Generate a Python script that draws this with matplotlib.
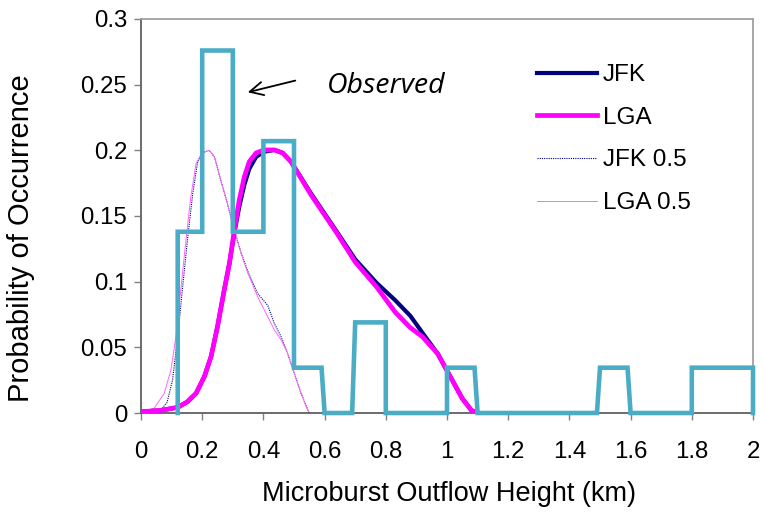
import matplotlib
matplotlib.use("Agg")
import matplotlib.pyplot as plt

plt.rcParams['font.family'] = ['Liberation Sans', 'DejaVu Sans']

# observed histogram outline (step vertices)
obs_x = [0.12, 0.12, 0.2, 0.2, 0.3, 0.3, 0.4, 0.4, 0.5, 0.5, 0.59, 0.6, 0.69, 0.7,
         0.8, 0.8, 1.0, 1.0, 1.09, 1.1, 1.49, 1.5, 1.59, 1.6, 1.8, 1.8, 2.0, 2.0]
obs_y = [0, 0.138, 0.138, 0.276, 0.276, 0.138, 0.138, 0.207, 0.207, 0.0345, 0.0345, 0, 0, 0.069,
         0.069, 0, 0, 0.0345, 0.0345, 0, 0, 0.0345, 0.0345, 0, 0, 0.0345, 0.0345, 0]

lga_x = [0, 0.065, 0.12, 0.152, 0.18, 0.207, 0.229, 0.25, 0.272, 0.289, 0.305, 0.321, 0.338,
         0.354, 0.376, 0.403, 0.436, 0.463, 0.49, 0.556, 0.64, 0.70, 0.77, 0.83, 0.88, 0.92,
         0.97, 1.01, 1.05, 1.08, 1.1]
lga_y = [0.001, 0.002, 0.0043, 0.0086, 0.015, 0.0277, 0.043, 0.0658, 0.0937, 0.114, 0.139, 0.162, 0.180,
         0.1914, 0.198, 0.2003, 0.2003, 0.198, 0.1914, 0.166, 0.137, 0.115, 0.096, 0.077, 0.065, 0.058,
         0.045, 0.028, 0.011, 0.002, 0.0]

jfk_x = [0, 0.065, 0.12, 0.152, 0.18, 0.207, 0.229, 0.25, 0.272, 0.289, 0.305, 0.321, 0.338,
         0.354, 0.376, 0.403, 0.436, 0.463, 0.49, 0.556, 0.64, 0.70, 0.77, 0.83, 0.88, 0.92,
         0.97, 1.01, 1.05, 1.08, 1.1]
jfk_y = [0.001, 0.002, 0.0043, 0.0086, 0.015, 0.0277, 0.043, 0.0658, 0.0937, 0.114, 0.137, 0.157, 0.174,
         0.186, 0.195, 0.199, 0.2003, 0.198, 0.1914, 0.167, 0.138, 0.117, 0.099, 0.086, 0.074, 0.061,
         0.045, 0.028, 0.011, 0.002, 0.0]

lga05_x = [0, 0.044, 0.076, 0.098, 0.114, 0.131, 0.147, 0.163, 0.18, 0.2, 0.223, 0.24, 0.261,
           0.283, 0.305, 0.327, 0.349, 0.381, 0.414, 0.436, 0.458, 0.479, 0.501, 0.523, 0.545, 0.55]
lga05_y = [0.0, 0.0039, 0.015, 0.033, 0.058, 0.096, 0.132, 0.165, 0.190, 0.198, 0.2, 0.195, 0.177,
           0.159, 0.139, 0.1216, 0.1064, 0.0886, 0.0734, 0.0632, 0.0556, 0.0454, 0.0302, 0.015, 0.0023, 0.0]

jfk05_x = [0.06, 0.085, 0.103, 0.12, 0.136, 0.152, 0.169, 0.185, 0.2, 0.223, 0.24, 0.261,
           0.283, 0.305, 0.327, 0.349, 0.381, 0.414, 0.436, 0.458, 0.479, 0.501, 0.523, 0.545, 0.55]
jfk05_y = [0.001, 0.008, 0.025, 0.058, 0.096, 0.132, 0.167, 0.191, 0.198, 0.2, 0.195, 0.177,
           0.159, 0.139, 0.122, 0.108, 0.091, 0.082, 0.068, 0.058, 0.0454, 0.0302, 0.015, 0.0023, 0.0]

x_ticks = [0, 0.2, 0.4, 0.6, 0.8, 1, 1.2, 1.4, 1.6, 1.8, 2]
x_labels = ['0', '0.2', '0.4', '0.6', '0.8', '1', '1.2', '1.4', '1.6', '1.8', '2']
y_ticks = [0, 0.05, 0.1, 0.15, 0.2, 0.25, 0.3]
y_labels = ['0', '0.05', '0.1', '0.15', '0.2', '0.25', '0.3']

fig = plt.figure(figsize=(7.64, 5.14), dpi=100)
ax = fig.add_axes([141 / 764, 1 - 413 / 514, 612 / 764, 394 / 514])

ax.plot(jfk05_x, jfk05_y, color='#000080', lw=0.8, ls=(0, (1, 1)), label='JFK 0.5', zorder=2)
ax.plot(lga05_x, lga05_y, color='#ff66ff', lw=0.7, label='LGA 0.5', zorder=2)
ax.plot(jfk_x, jfk_y, color='#000080', lw=3.0, label='JFK', zorder=3)
ax.plot(lga_x, lga_y, color='#ff00ff', lw=3.4, label='LGA', zorder=4)
ax.plot(obs_x, obs_y, color='#4bacc6', lw=3.3, solid_joinstyle='miter', zorder=5, clip_on=False)

ax.set_xlim(0, 2)
ax.set_ylim(0, 0.3)
ax.set_xticks(x_ticks)
ax.set_xticklabels(x_labels)
ax.set_yticks(y_ticks)
ax.set_yticklabels(y_labels)
ax.tick_params(axis='both', direction='out', length=5, width=1, color='#808080',
               labelsize=17.3, pad=5)
ax.tick_params(axis='x', pad=15)

for side in ['left', 'bottom']:
    ax.spines[side].set_color('#606060')
    ax.spines[side].set_linewidth(1.3)
for side in ['top', 'right']:
    ax.spines[side].set_color('#a0a0a0')
    ax.spines[side].set_linewidth(1.3)

ax.set_xlabel('Microburst Outflow Height (km)', fontsize=19.5, va='center')
ax.xaxis.set_label_coords(0.504, (413 - 494) / 394)
ax.set_ylabel('Probability of Occurrence', fontsize=21, va='center')
ax.yaxis.set_label_coords((21 - 141) / 612, (413 - 238) / 394)

ax.annotate('', xy=(0.34, 0.2437), xytext=(0.513, 0.2536),
            arrowprops=dict(arrowstyle='->', color='black', lw=1.3, mutation_scale=24))
ax.text(0.608, 0.249, 'Observed', fontsize=20.5, style='italic',
        family=['Open Sans', 'DejaVu Sans'], va='center', ha='left')

handles, labels = ax.get_legend_handles_labels()
order = [labels.index(n) for n in ['JFK', 'LGA', 'JFK 0.5', 'LGA 0.5']]
leg = ax.legend([handles[i] for i in order], [labels[i] for i in order],
                loc='upper left', bbox_to_anchor=(537 / 764, 1 - 64 / 514),
                bbox_transform=fig.transFigure, frameon=False, fontsize=17.5,
                borderpad=0, borderaxespad=0, handlelength=2.45, handletextpad=0.25,
                labelspacing=0.85)

fig.savefig('out.png', dpi=100)
